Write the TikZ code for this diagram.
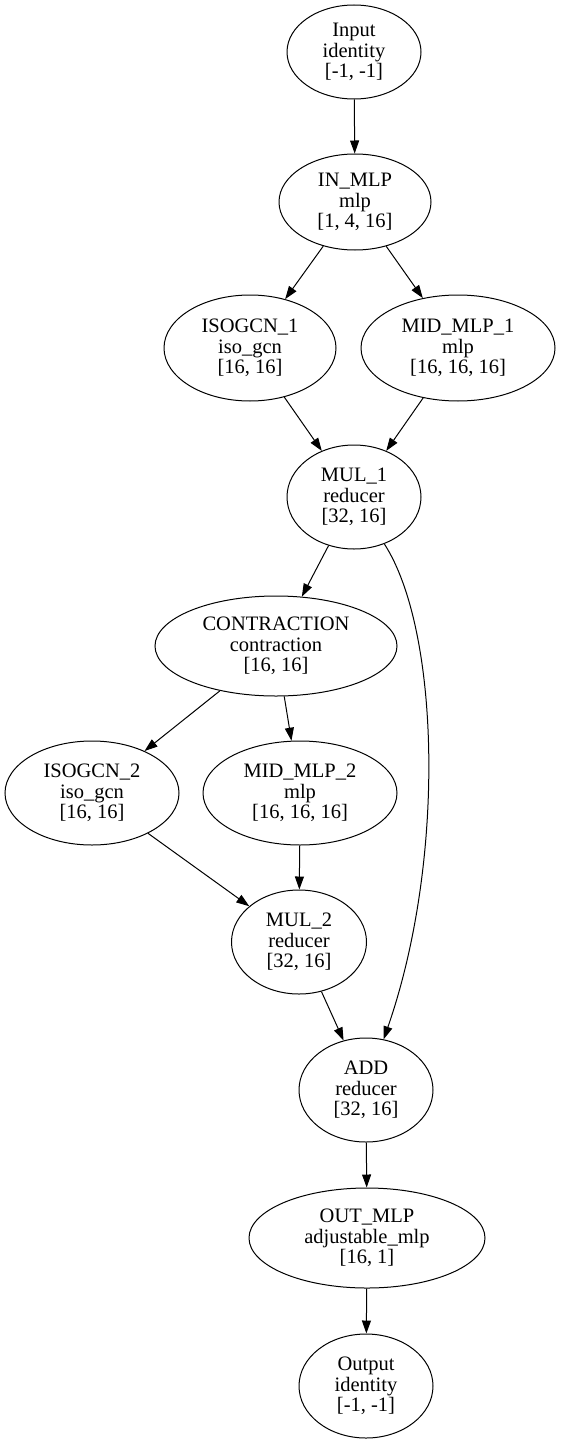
\documentclass[tikz,border=0pt]{standalone}
\usepackage{fontspec}
\setmainfont{Liberation Serif}
\usetikzlibrary{arrows.meta,shapes.geometric}
\begin{document}
\begin{tikzpicture}[x=1pt,y=-1pt,
  nd/.style={draw,ellipse,line width=1pt,inner sep=0pt,align=center,font=\fontsize{20.5}{20.5}\selectfont},
  ed/.style={draw,line width=1pt,-{Triangle[length=13pt,width=9pt]}}]
\useasboundingbox (0,0) rectangle (561,1442);
\node[nd,minimum width=134pt,minimum height=94pt] (input) at (354,52) {Input\\identity\\{[-1, -1]}};
\node[nd,minimum width=152pt,minimum height=96pt] (inmlp) at (355,202) {IN\_MLP\\mlp\\{[1, 4, 16]}};
\node[nd,minimum width=172pt,minimum height=106pt] (iso1) at (250,348) {ISOGCN\_1\\iso\_gcn\\{[16, 16]}};
\node[nd,minimum width=194pt,minimum height=106pt] (mid1) at (458,348) {MID\_MLP\_1\\mlp\\{[16, 16, 16]}};
\node[nd,minimum width=134pt,minimum height=104pt] (mul1) at (354,497) {MUL\_1\\reducer\\{[32, 16]}};
\node[nd,minimum width=242pt,minimum height=100pt] (con) at (276,646) {CONTRACTION\\contraction\\{[16, 16]}};
\node[nd,minimum width=174pt,minimum height=104pt] (iso2) at (92,793) {ISOGCN\_2\\iso\_gcn\\{[16, 16]}};
\node[nd,minimum width=194pt,minimum height=104pt] (mid2) at (300,793) {MID\_MLP\_2\\mlp\\{[16, 16, 16]}};
\node[nd,minimum width=135pt,minimum height=104pt] (mul2) at (299,942) {MUL\_2\\reducer\\{[32, 16]}};
\node[nd,minimum width=134pt,minimum height=104pt] (add) at (366,1090) {ADD\\reducer\\{[32, 16]}};
\node[nd,minimum width=236pt,minimum height=100pt] (outmlp) at (367,1238) {OUT\_MLP\\adjustable\_mlp\\{[16, 1]}};
\node[nd,minimum width=134pt,minimum height=104pt] (output) at (366,1386) {Output\\identity\\{[-1, -1]}};
\draw[ed] (input) -- (inmlp);
\draw[ed] (inmlp) -- (iso1);
\draw[ed] (inmlp) -- (mid1);
\draw[ed] (iso1) -- (mul1);
\draw[ed] (mid1) -- (mul1);
\draw[ed] (mul1) -- (con);
\draw[ed] (mul1) .. controls (440,630) and (446,860) .. (add);
\draw[ed] (con) -- (iso2);
\draw[ed] (con) -- (mid2);
\draw[ed] (iso2) -- (mul2);
\draw[ed] (mid2) -- (mul2);
\draw[ed] (mul2) -- (add);
\draw[ed] (add) -- (outmlp);
\draw[ed] (outmlp) -- (output);
\end{tikzpicture}
\end{document}
